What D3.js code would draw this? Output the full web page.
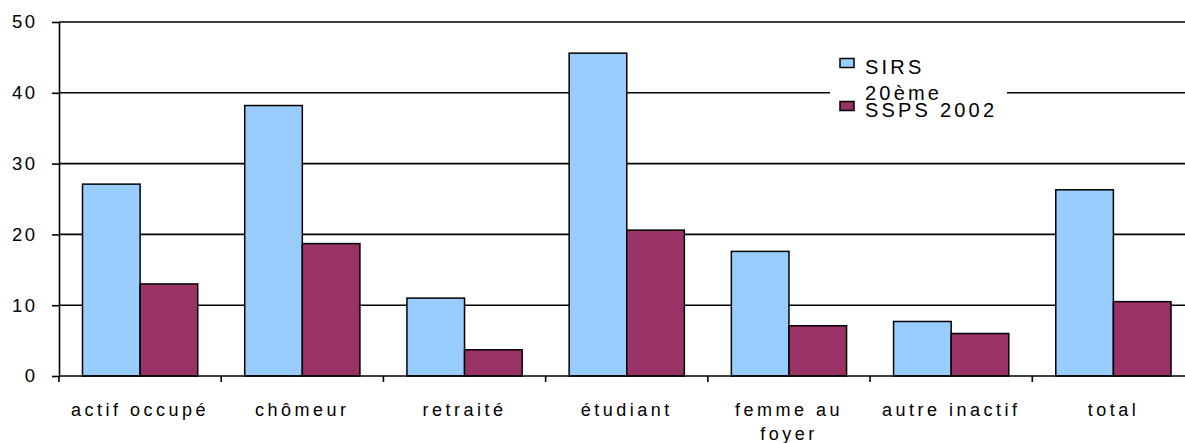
<!DOCTYPE html>
<html>
<head>
<meta charset="utf-8">
<script src="https://cdn.jsdelivr.net/npm/d3@7"></script>
<style>
  body { margin: 0; background: #fff; }
  text { font-family: "Liberation Sans", Arial, sans-serif; fill: #000; }
</style>
</head>
<body>
<svg id="chart" width="1185" height="443"></svg>
<script>
var categories = ["actif occupé", "chômeur", "retraité", "étudiant", "femme au foyer", "autre inactif", "total"];
var seriesNames = ["SIRS 20ème", "SSPS 2002"];
var sirs = [27.1, 38.2, 11.0, 45.6, 17.6, 7.7, 26.3];
var ssps = [13.0, 18.7, 3.7, 20.6, 7.1, 6.0, 10.5];
var yTicks = [0, 10, 20, 30, 40, 50];
var colors = ["#99ccff", "#993366"];

var svg = d3.select("#chart");

var plotLeft = 59, plotRight = 1194.5, plotTop = 22, plotBottom = 376;

var x0 = d3.scaleBand().domain(categories).range([plotLeft, plotRight]).padding(0);
var x1 = d3.scaleBand().domain(seriesNames).range([23.5, x0.bandwidth() - 23.5]).padding(0);
var y = d3.scaleLinear().domain([0, 50]).range([plotBottom, plotTop]);

var rows = categories.map(function(c, i) {
  return { cat: c, vals: [sirs[i], ssps[i]] };
});

// grid lignes horizontales
svg.append("g").selectAll("line")
  .data(yTicks.filter(function(d) { return d > 0; }))
  .enter().append("line")
    .attr("x1", plotLeft).attr("x2", plotRight)
    .attr("y1", function(d) { return y(d); })
    .attr("y2", function(d) { return y(d); })
    .attr("stroke", "#000").attr("stroke-width", 1.6);

// barres
var grp = svg.append("g").selectAll("g")
  .data(rows)
  .enter().append("g")
    .attr("transform", function(d) { return "translate(" + x0(d.cat) + ",0)"; });

grp.selectAll("rect")
  .data(function(d) { return d.vals.map(function(v, j) { return { name: seriesNames[j], v: v, j: j }; }); })
  .enter().append("rect")
    .attr("x", function(d) { return x1(d.name); })
    .attr("width", x1.bandwidth())
    .attr("y", function(d) { return y(d.v); })
    .attr("height", function(d) { return y(0) - y(d.v); })
    .attr("fill", function(d) { return colors[d.j]; })
    .attr("stroke", "#000").attr("stroke-width", 1.5);

// axe y
var yAxis = svg.append("g")
  .attr("transform", "translate(" + plotLeft + ",0)")
  .call(d3.axisLeft(y).tickValues(yTicks).tickSize(7).tickSizeOuter(0).tickPadding(14.5));
yAxis.select(".domain").attr("stroke", "#000").attr("stroke-width", 1.6);
yAxis.selectAll(".tick line").attr("stroke", "#000").attr("stroke-width", 1.6);
yAxis.selectAll("text").style("font-size", "18.5px").style("letter-spacing", "2.5px").attr("fill", "#000")
  .style("font-family", "'Liberation Sans', Arial, sans-serif");

// axe x
svg.append("line")
  .attr("x1", plotLeft).attr("x2", plotRight)
  .attr("y1", plotBottom).attr("y2", plotBottom)
  .attr("stroke", "#000").attr("stroke-width", 1.6);

var bounds = categories.map(function(c) { return x0(c); }).concat([plotRight]);
svg.append("g").selectAll("line")
  .data(bounds)
  .enter().append("line")
    .attr("x1", function(d) { return d; }).attr("x2", function(d) { return d; })
    .attr("y1", plotBottom).attr("y2", plotBottom + 6)
    .attr("stroke", "#000").attr("stroke-width", 1.6);

svg.append("g").selectAll("text")
  .data(categories)
  .enter().append("text")
    .attr("text-anchor", "middle")
    .style("font-size", "18px")
    .style("letter-spacing", "3.5px")
    .attr("y", 416)
    .each(function(c) {
      var t = d3.select(this);
      var cx = x0(c) + x0.bandwidth() / 2;
      var words = c.split(" "), line = [], lineNo = 0;
      var ts = t.append("tspan").attr("x", cx).attr("y", 416);
      words.forEach(function(w) {
        line.push(w);
        ts.text(line.join(" "));
        if (ts.node().getComputedTextLength() > 150 && line.length > 1) {
          line.pop();
          ts.text(line.join(" "));
          line = [w];
          lineNo++;
          ts = t.append("tspan").attr("x", cx).attr("y", 416 + lineNo * 23.5).text(w);
        }
      });
    });

// légende
var legend = svg.append("g");
legend.append("rect")
  .attr("x", 830).attr("y", 46).attr("width", 177).attr("height", 80)
  .attr("fill", "#fff");

var items = legend.selectAll("g")
  .data(seriesNames)
  .enter().append("g")
    .attr("transform", function(d, i) { return "translate(840," + (58.5 + i * 43) + ")"; });

items.append("rect")
  .attr("width", 14).attr("height", 9)
  .attr("fill", function(d, i) { return colors[i]; })
  .attr("stroke", "#000").attr("stroke-width", 1.5);

items.append("text")
  .style("font-size", "20px")
  .style("letter-spacing", "3.2px")
  .each(function(d) {
    var t = d3.select(this);
    var parts = d === "SIRS 20ème" ? ["SIRS", "20ème"] : [d];
    parts.forEach(function(p, k) {
      t.append("tspan").attr("x", 25).attr("y", 15 + k * 26).text(p);
    });
  });
</script>
</body>
</html>
